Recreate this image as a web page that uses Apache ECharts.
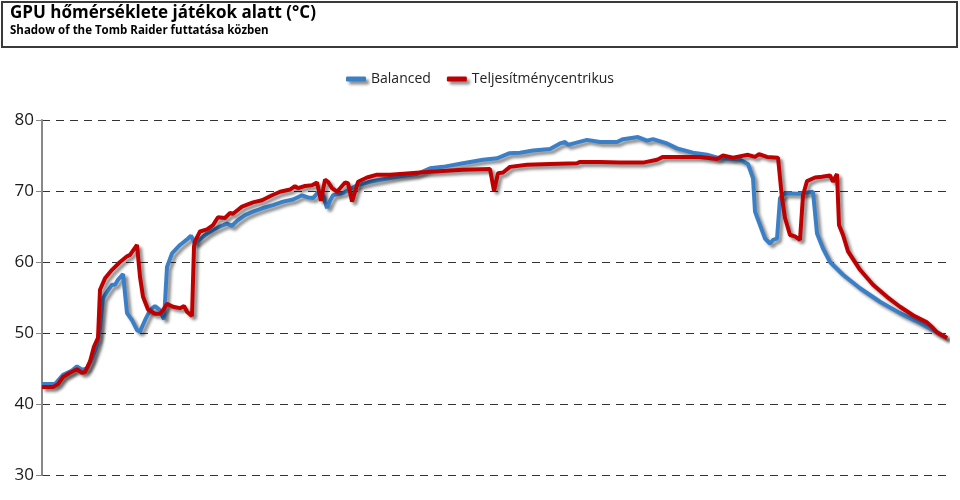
<!DOCTYPE html>
<html><head><meta charset="utf-8">
<script src="https://cdn.jsdelivr.net/npm/echarts@6/dist/echarts.min.js"></script>
<style>html,body{margin:0;padding:0;background:#fff}#c{width:960px;height:500px}</style>
</head><body><div id="c"></div>
<script>
const titleText = "GPU hőmérséklete játékok alatt (°C)";
const subtitleText = "Shadow of the Tomb Raider futtatása közben";
const seriesNames = ["Balanced", "Teljesítménycentrikus"];
const yTicks = [30, 40, 50, 60, 70, 80];

const balancedT = [
  0, 13, 21, 30, 35, 40, 45, 50, 55, 58,
  61, 65, 70, 73, 76, 81, 83, 85, 90, 95,
  98, 103, 108, 113, 118, 122, 125, 130, 138, 146,
  149, 153, 158, 165, 171, 178, 185, 190, 195, 203,
  211, 221, 231, 241, 251, 260, 266, 271, 276, 281,
  285, 288, 291, 301, 315, 328, 355, 375, 388, 401,
  421, 441, 455, 467, 478, 491, 508, 518, 523, 526,
  545, 558, 575, 581, 596, 605, 611, 625, 635, 651,
  665, 678, 691, 698, 706, 711, 713, 718, 723, 728,
  731, 735, 738, 743, 758, 771, 775, 781, 788, 801,
  818, 838, 858, 878, 891, 905];
const balancedV = [
  42.8, 42.8, 44.1, 44.7, 45.3, 44.8, 45.0, 46.4, 48.3, 50.7,
  54.9, 55.8, 56.8, 56.8, 57.5, 58.3, 58.2, 52.8, 51.8, 50.4,
  50.2, 51.8, 53.2, 53.8, 53.2, 51.9, 59.3, 61.2, 62.4, 63.3,
  63.7, 62.6, 63.2, 64.0, 64.5, 65.0, 65.4, 65.1, 65.8, 66.6,
  67.1, 67.6, 68.0, 68.5, 68.8, 69.4, 69.1, 69.0, 69.8, 69.4,
  67.6, 68.6, 69.4, 69.7, 70.8, 71.3, 72.0, 72.4, 73.2, 73.4,
  73.9, 74.4, 74.6, 75.3, 75.4, 75.7, 75.9, 76.7, 76.9, 76.5,
  77.2, 76.9, 76.9, 77.3, 77.6, 77.1, 77.3, 76.7, 76.0, 75.4,
  75.1, 74.6, 74.5, 74.4, 73.8, 71.8, 67.1, 65.2, 63.3, 62.6,
  63.1, 63.3, 69.0, 69.7, 69.6, 69.9, 64.0, 61.9, 60.0, 58.2,
  56.3, 54.4, 52.8, 51.4, 50.4, 49.3];

const perfT = [
  0, 11, 16, 21, 28, 35, 40, 43, 48, 52,
  56, 58, 63, 70, 78, 85, 88, 95, 98, 101,
  106, 113, 118, 121, 125, 131, 138, 142, 145, 150,
  152, 153, 158, 165, 171, 176, 183, 188, 191, 200,
  211, 220, 230, 238, 248, 253, 256, 263, 270, 275,
  279, 283, 286, 290, 295, 303, 306, 310, 316, 325,
  335, 348, 368, 388, 421, 448, 452, 456, 461, 468,
  485, 508, 535, 538, 558, 578, 601, 615, 621, 638,
  658, 675, 681, 691, 706, 713, 717, 725, 736, 740,
  743, 748, 753, 758, 761, 765, 773, 780, 788, 791,
  795, 797, 801, 806, 818, 831, 845, 858, 871, 885,
  891, 895, 905];
const perfV = [
  42.4, 42.4, 42.8, 43.8, 44.4, 44.9, 44.4, 44.5, 46.0, 48.1,
  49.3, 56.1, 57.7, 58.9, 60.0, 60.8, 61.0, 62.4, 57.9, 55.1,
  53.3, 52.7, 52.7, 53.2, 54.1, 53.7, 53.5, 53.8, 53.0, 52.4,
  62.2, 62.9, 64.3, 64.6, 65.2, 66.3, 66.2, 66.9, 66.8, 67.8,
  68.4, 68.7, 69.4, 69.9, 70.2, 70.7, 70.4, 70.7, 70.8, 71.2,
  68.6, 71.6, 71.3, 70.4, 69.9, 71.2, 71.1, 68.5, 71.3, 71.9,
  72.3, 72.3, 72.5, 72.7, 73.0, 73.1, 70.0, 72.5, 72.6, 73.4,
  73.7, 73.8, 73.9, 74.1, 74.1, 74.0, 74.0, 74.4, 74.8, 74.8,
  74.8, 74.5, 75.0, 74.7, 75.1, 74.8, 75.2, 74.8, 74.7, 69.0,
  66.2, 63.8, 63.6, 63.1, 69.4, 71.4, 71.9, 72.0, 72.2, 71.3,
  72.4, 65.2, 63.8, 61.5, 58.9, 56.8, 55.1, 53.7, 52.5, 51.5,
  50.7, 50.1, 49.3];

const colors = ["#3b7fc7", "#c00000"];

function pairs(t, v) { return t.map((x, i) => [x, v[i]]); }

const chart = echarts.init(document.getElementById('c'));
const shadow = {shadowColor: 'rgba(0,0,0,0.45)', shadowBlur: 3, shadowOffsetX: 3, shadowOffsetY: 3};
chart.setOption({
  animation: false,
  backgroundColor: '#fff',
  graphic: [
    {type: 'rect', shape: {x: 2, y: 2, width: 955, height: 45}, style: {fill: '#fff', stroke: '#3a3a3a', lineWidth: 2}},
    {type: 'text', left: 10, top: 5, style: {text: titleText, font: 'bold 17px "Open Sans", sans-serif', fill: '#000'}},
    {type: 'text', left: 10, top: 25, style: {text: subtitleText, font: 'bold 11.5px "Open Sans", sans-serif', fill: '#000'}}
  ],
  legend: {
    top: 67, left: 'center',
    data: seriesNames,
    icon: 'roundRect', itemWidth: 20, itemHeight: 5, itemGap: 16,
    itemStyle: shadow,
    textStyle: {fontFamily: '"Open Sans", sans-serif', fontSize: 14, color: '#222'}
  },
  grid: {left: 42, right: 12, top: 120, bottom: 25, containLabel: false},
  xAxis: {type: 'value', min: 0, max: 906, show: false},
  yAxis: {
    type: 'value', min: yTicks[0], max: yTicks[yTicks.length - 1], interval: 10,
    axisLine: {show: true, lineStyle: {color: '#888', width: 2}},
    axisTick: {show: true, length: 6, lineStyle: {color: '#888', width: 1}},
    axisLabel: {fontFamily: '"Open Sans", sans-serif', fontSize: 17, color: '#1a1a1a', margin: 8},
    splitLine: {show: true, lineStyle: {color: '#333', type: [8, 6], width: 1}}
  },
  series: [
    {name: seriesNames[0], type: 'line', data: pairs(balancedT, balancedV), symbol: 'none', color: colors[0],
     lineStyle: Object.assign({width: 4, color: colors[0]}, shadow), z: 2},
    {name: seriesNames[1], type: 'line', data: pairs(perfT, perfV), symbol: 'none', color: colors[1],
     lineStyle: Object.assign({width: 4, color: colors[1]}, shadow), z: 3}
  ]
});
</script></body></html>
